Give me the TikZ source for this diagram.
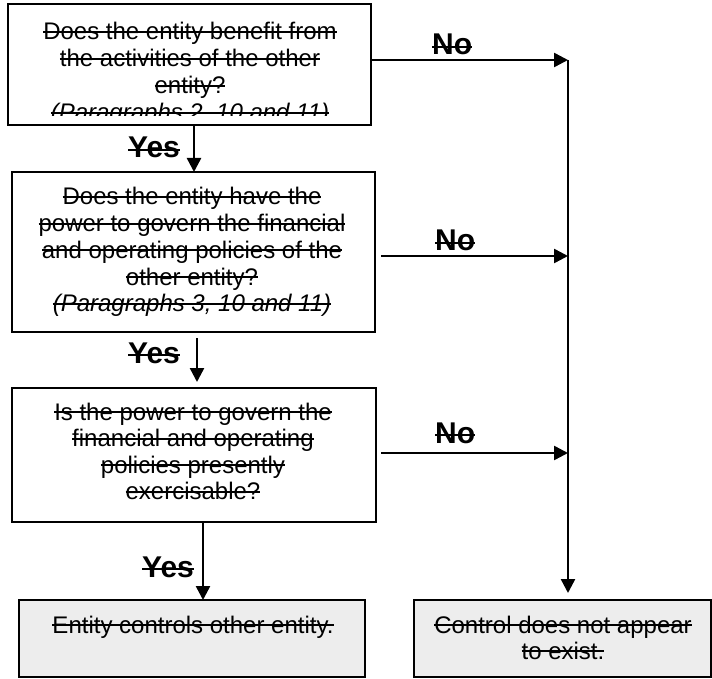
\documentclass[tikz,border=0pt]{standalone}
\usepackage{fontspec}
\setmainfont{Liberation Sans}
\newsavebox\strkbox
\newcommand\strk[1]{\sbox\strkbox{#1}\rlap{\rule[7pt]{\wd\strkbox}{2pt}}\usebox\strkbox}
\newcommand\bstrk[1]{\sbox\strkbox{#1}\rlap{\rule[7pt]{\wd\strkbox}{2.2pt}}\usebox\strkbox}
\usetikzlibrary{arrows.meta}
\begin{document}
\begin{tikzpicture}[x=1pt,y=-1pt,
  qbox/.style={draw, line width=1.5pt, inner sep=0pt, outer sep=0pt},
  rbox/.style={draw, line width=1.5pt, fill=black!7, inner sep=0pt, outer sep=0pt},
  txt/.style={anchor=base, inner sep=0pt, font=\fontsize{24}{26.7}\selectfont},
  lbl/.style={anchor=base west, inner sep=0pt, font=\fontsize{30}{32}\selectfont\bfseries},
  arr/.style={line width=2.5pt, -{Triangle[length=14pt,width=14pt]}},
  ln/.style={line width=2.5pt}]
\useasboundingbox (0,0) rectangle (712,679);
\fill[white] (0,0) rectangle (712,679);

% boxes
\node[qbox, minimum width=363pt, minimum height=121pt] (b1) at (189.5,64.5) {};
\node[qbox, minimum width=363pt, minimum height=160pt] (b2) at (193.5,252) {};
\node[qbox, minimum width=364pt, minimum height=134pt] (b3) at (194,455) {};
\node[rbox, minimum width=346pt, minimum height=77pt] (r1) at (192,638.5) {};
\node[rbox, minimum width=297pt, minimum height=77pt] (r2) at (562.5,638.5) {};

% box 1 text (clipped)
\begin{scope}
\clip (8,4) rectangle (371,116);
\node[txt] (t11) at (190,40) {\strk{Does the entity benefit from}};
\node[txt] (t12) at (190,67) {\strk{the activities of the other}};
\node[txt] (t13) at (190,94) {\strk{entity?}};
\node[txt] (t14) at (190,121) {\itshape\strk{(Paragraphs 2, 10 and 11)}};
\end{scope}

% box 2 text
\node[txt] (t21) at (192,205) {\strk{Does the entity have the}};
\node[txt] (t22) at (192,231.7) {\strk{power to govern the financial}};
\node[txt] (t23) at (192,258.4) {\strk{and operating policies of the}};
\node[txt] (t24) at (192,285.1) {\strk{other entity?}};
\node[txt] (t25) at (192,311.8) {\itshape\strk{(Paragraphs 3, 10 and 11)}};

% box 3 text
\node[txt] (t31) at (193,420) {\strk{Is the power to govern the}};
\node[txt] (t32) at (193,446.5) {\strk{financial and operating}};
\node[txt] (t33) at (193,473) {\strk{policies presently}};
\node[txt] (t34) at (193,499.5) {\strk{exercisable?}};

% result boxes text
\node[txt] (t41) at (193,633) {\strk{Entity controls other entity.}};
\node[txt] (t51) at (563,633) {\strk{Control does not appear}};
\node[txt] (t52) at (563,659) {\strk{to exist.}};

% coordinates
\coordinate (y1) at (194,0);
\coordinate (y2) at (197,0);
\coordinate (y3) at (203,0);
\coordinate (n1) at (568,60);
\coordinate (n2s) at (381,256);
\coordinate (n2) at (568,256);
\coordinate (n3s) at (381,453);
\coordinate (n3) at (568,453);

% yes arrows
\draw[arr] (b1.south -| y1) -- (b2.north -| y1);
\draw[arr, shorten <=6pt, shorten >=6pt] (b2.south -| y2) -- (b3.north -| y2);
\draw[arr] (b3.south -| y3) -- (r1.north -| y3);

% no arrows
\draw[arr] (b1.east |- n1) -- (n1);
\draw[arr] (n2s) -- (n2);
\draw[arr] (n3s) -- (n3);
\draw[arr, shorten >=7pt] (n1) -- (r2.north -| n1);

% labels
\node[lbl] (yes1) at (128,158) {\bstrk{Yes}};
\node[lbl] (yes2) at (128,363) {\bstrk{Yes}};
\node[lbl] (yes3) at (142,577) {\bstrk{Yes}};
\node[lbl] (no1) at (432,55) {\bstrk{No}};
\node[lbl] (no2) at (435,251) {\bstrk{No}};
\node[lbl] (no3) at (435,443) {\bstrk{No}};
\end{tikzpicture}
\end{document}
